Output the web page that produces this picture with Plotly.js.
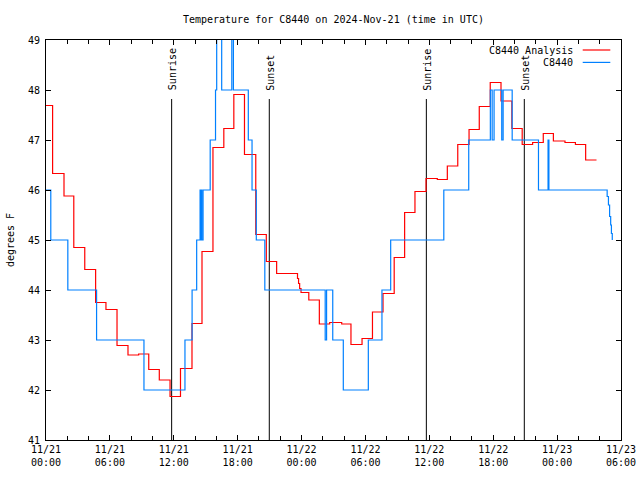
<!DOCTYPE html>
<html>
<head>
<meta charset="utf-8">
<script src="https://cdn.plot.ly/plotly-3.0.1.min.js"></script>
<style>
html,body{margin:0;padding:0;background:#fff;}
#chart{width:640px;height:480px;}
</style>
</head>
<body>
<div id="chart"></div>
<script>
// Hours since 2024-11-21 00:00 UTC ; each value holds until the next time
const analysisHours = [0,0.62,1.69,2.61,3.64,4.66,5.63,6.67,7.70,8.70,9.65,10.64,11.65,12.63,13.71,14.65,15.68,16.70,17.64,18.64,19.70,20.69,21.66,23.62,23.72,23.82,23.95,24.68,25.67,26.64,27.77,28.64,29.68,30.66,31.65,32.70,33.68,34.65,35.69,36.75,37.69,38.67,39.73,40.69,41.72,42.73,43.75,44.72,45.70,46.70,47.65,48.74,49.72,50.68,51.70];
const analysisTemps = [47.69,46.33,45.88,44.85,44.41,43.75,43.61,42.89,42.70,42.72,42.41,42.20,41.87,42.43,43.33,44.77,46.85,47.23,47.91,46.71,45.11,44.57,44.33,44.23,44.13,44.03,43.95,43.80,43.32,43.35,43.32,42.91,43.03,43.56,43.93,44.65,45.55,45.97,46.23,46.21,46.48,46.91,47.21,47.67,48.15,47.78,47.23,46.91,46.95,47.13,46.98,46.95,46.91,46.60,46.60];

const obsHours = [0,0.45,2.05,4.75,9.20,13.05,13.72,14.15,14.47,14.52,14.58,14.63,14.75,15.42,15.92,16.03,16.50,17.45,17.60,19.00,19.35,19.75,20.55,26.22,26.35,26.93,27.92,30.27,31.55,32.37,37.36,39.70,41.73,41.90,42.08,42.80,42.93,43.78,46.25,47.15,47.23,52.70,52.82,52.93,53.03,53.10,53.18];
const obsTemps = [46,45,44,43,42,43,44,45,46,45,46,45,46,47,48,50,48,50,48,47,46,45,44,43,44,43,42,43,44,45,46,47,48,47,48,47,48,47,46,47,46,45.87,45.70,45.47,45.30,45.13,45.00];

const sunHours = [11.80,20.97,35.72,44.92];
const sunLabels = ["Sunrise","Sunset","Sunrise","Sunset"];
const sunLineTop = 47.82;

const tickHours = [0,6,12,18,24,30,36,42,48,54];
const tickLabels = ["11/21<br>00:00","11/21<br>06:00","11/21<br>12:00","11/21<br>18:00","11/22<br>00:00","11/22<br>06:00","11/22<br>12:00","11/22<br>18:00","11/23<br>00:00","11/23<br>06:00"];

const seriesNames = ["C8440 Analysis","C8440"];
const seriesColors = ["#ff0000","#0080ff"];

const FONT = "DejaVu Sans Mono, Liberation Mono, monospace";

const traces = [];
sunHours.forEach(function(h){
  traces.push({x:[h,h], y:[41,sunLineTop], mode:'lines', line:{color:'#000',width:1}, hoverinfo:'skip', showlegend:false});
});
traces.push({x:analysisHours, y:analysisTemps, name:seriesNames[0], mode:'lines', line:{color:seriesColors[0],width:1.2,shape:'hv'}, showlegend:false});
traces.push({x:obsHours, y:obsTemps, name:seriesNames[1], mode:'lines', line:{color:seriesColors[1],width:1.2,shape:'hv'}, showlegend:false});

const annotations = sunHours.map(function(h,i){
  return {x:h, y:47.95, xref:'x', yref:'y', text:sunLabels[i], textangle:-90, showarrow:false, xanchor:'center', yanchor:'bottom', xshift:1, font:{family:FONT,size:10,color:'#000'}};
});
// legend (gnuplot style: text then sample)
const legendY = [0.975, 0.944];
const shapes = [];
seriesNames.forEach(function(n,i){
  annotations.push({x:0.9205, y:legendY[i], xref:'paper', yref:'paper', text:n, showarrow:false, xanchor:'right', yanchor:'middle', font:{family:FONT,size:10,color:'#000'}});
  shapes.push({type:'line', xref:'paper', yref:'paper', x0:0.9334, x1:0.9814, y0:legendY[i], y1:legendY[i], line:{color:seriesColors[i],width:1.2}});
});

const layout = {
  width:640, height:480,
  margin:{l:46, r:19, t:40, b:40, pad:0},
  paper_bgcolor:'#fff', plot_bgcolor:'#fff',
  font:{family:FONT, size:10, color:'#000'},
  title:{text:'Temperature for C8440 on 2024-Nov-21 (time in UTC)', x:0.521, xanchor:'center', xref:'container', y:1-19/480, yanchor:'middle', yref:'container', font:{family:FONT,size:10,color:'#000'}},
  xaxis:{range:[0,54], tickmode:'array', tickvals:tickHours, ticktext:tickLabels, ticks:'inside', ticklen:5, tickcolor:'#000', showline:true, linecolor:'#000', linewidth:1, mirror:'ticks', showgrid:false, zeroline:false, fixedrange:true, automargin:false,
    minor:{tickmode:'linear', tick0:0, dtick:2, ticks:'inside', ticklen:4, tickcolor:'#000', showgrid:false},
    tickfont:{family:FONT,size:10,color:'#000'}},
  yaxis:{range:[41,49], tickmode:'linear', tick0:41, dtick:1, ticks:'inside', ticklen:5, tickcolor:'#000', showline:true, linecolor:'#000', linewidth:1, mirror:'ticks', showgrid:false, zeroline:false, fixedrange:true, automargin:false,
    ticklabelstandoff:3,
    title:{text:'degrees F', standoff:11, font:{family:FONT,size:10,color:'#000'}},
    tickfont:{family:FONT,size:10,color:'#000'}},
  annotations:annotations,
  shapes:shapes,
  showlegend:false
};

Plotly.newPlot('chart', traces, layout, {displayModeBar:false, staticPlot:true});
</script>
</body>
</html>
